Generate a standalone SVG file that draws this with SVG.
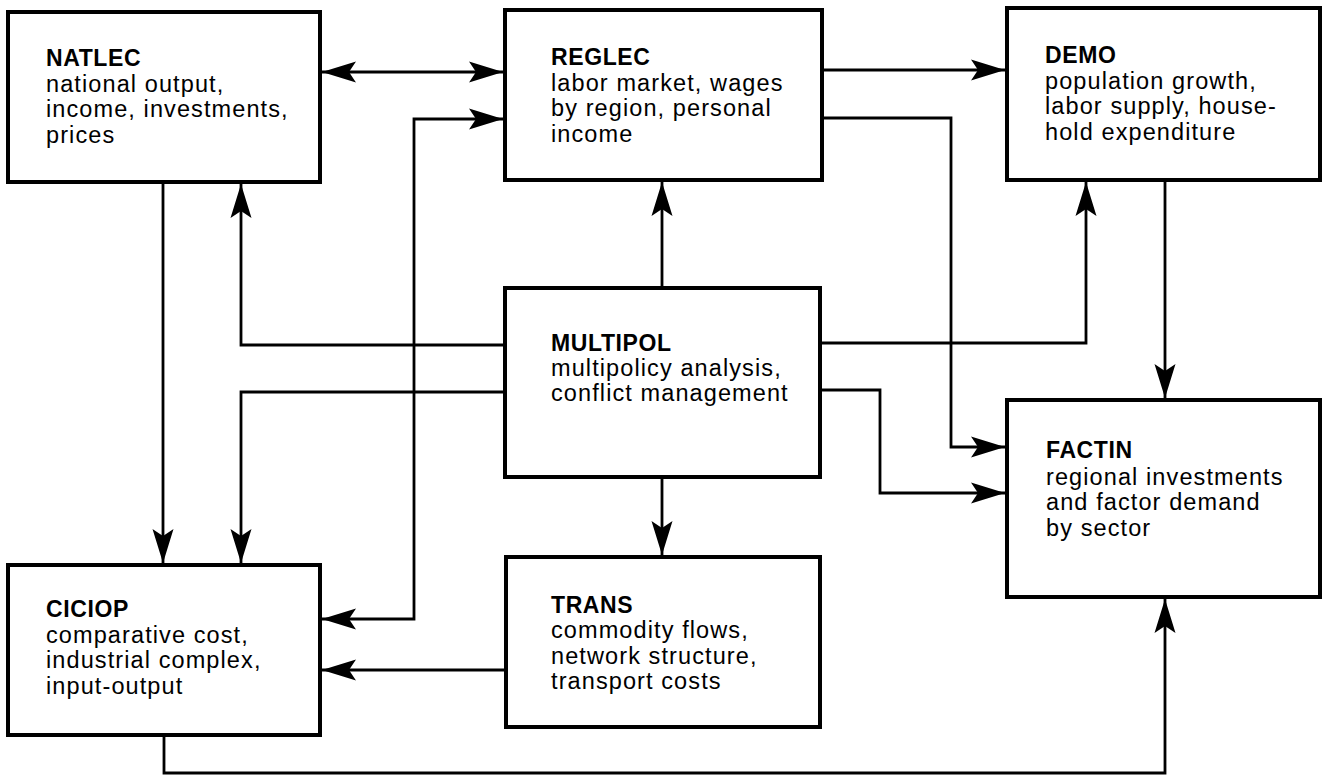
<svg xmlns="http://www.w3.org/2000/svg" width="1323" height="777" viewBox="0 0 1323 777">
  <style>
    .box { fill: #fff; stroke: #000; stroke-width: 4; }
    .ttl { font-family: "Liberation Sans", Arial, sans-serif; font-size: 23px; font-weight: bold; letter-spacing: 0.6px; fill: #000; }
    .txt { font-family: "Liberation Sans", Arial, sans-serif; font-size: 23.5px; letter-spacing: 1.1px; fill: #000; }
    .ln { fill: none; stroke: #000; stroke-width: 2.8; }
  </style>
  <defs>
    <!-- barbed arrowhead, tip at the path end -->
    <marker id="ah" viewBox="0 0 34 24" refX="34" refY="12" markerWidth="34" markerHeight="24" markerUnits="userSpaceOnUse" orient="auto-start-reverse">
      <path d="M0,1.5 L34,12 L0,22.5 L7,12 Z" fill="#000"/>
    </marker>
  </defs>
  <rect width="1323" height="777" fill="#fff"/>

  <!-- connectors -->
  <g id="connectors">
    <path class="ln" d="M322,72 H503" marker-start="url(#ah)" marker-end="url(#ah)"/>
    <path class="ln" d="M503,119 H414 V619 H322" marker-start="url(#ah)" marker-end="url(#ah)"/>
    <path class="ln" d="M822,70 H1005" marker-end="url(#ah)"/>
    <path class="ln" d="M822,118 H951 V447 H1005" marker-end="url(#ah)"/>
    <path class="ln" d="M662,288 V182" marker-end="url(#ah)"/>
    <path class="ln" d="M505,345 H241 V184" marker-end="url(#ah)"/>
    <path class="ln" d="M505,392 H241 V563" marker-end="url(#ah)"/>
    <path class="ln" d="M163,182 V563" marker-end="url(#ah)"/>
    <path class="ln" d="M820,343 H1086 V182" marker-end="url(#ah)"/>
    <path class="ln" d="M1165,180 V398" marker-end="url(#ah)"/>
    <path class="ln" d="M820,390 H880 V493 H1005" marker-end="url(#ah)"/>
    <path class="ln" d="M662,477 V555" marker-end="url(#ah)"/>
    <path class="ln" d="M506,670 H322" marker-end="url(#ah)"/>
    <path class="ln" d="M164,735 V773 H1165 V599" marker-end="url(#ah)"/>
  </g>

  <g id="natlec">
    <rect class="box" x="8" y="12" width="312" height="170"/>
    <text class="ttl" x="46" y="66">NATLEC</text>
    <text class="txt" x="46" y="92">national output,</text>
    <text class="txt" x="46" y="117">income, investments,</text>
    <text class="txt" x="46" y="143">prices</text>
  </g>

  <g id="reglec">
    <rect class="box" x="505" y="10" width="317" height="170"/>
    <text class="ttl" x="551" y="65">REGLEC</text>
    <text class="txt" x="551" y="91">labor market, wages</text>
    <text class="txt" x="551" y="116">by region, personal</text>
    <text class="txt" x="551" y="142">income</text>
  </g>

  <g id="demo">
    <rect class="box" x="1007" y="8" width="313" height="172"/>
    <text class="ttl" x="1045" y="63">DEMO</text>
    <text class="txt" x="1045" y="89">population growth,</text>
    <text class="txt" x="1045" y="114">labor supply, house-</text>
    <text class="txt" x="1045" y="140">hold expenditure</text>
  </g>

  <g id="multipol">
    <rect class="box" x="505" y="288" width="315" height="189"/>
    <text class="ttl" x="551" y="351">MULTIPOL</text>
    <text class="txt" x="551" y="376">multipolicy analysis,</text>
    <text class="txt" x="551" y="401">conflict management</text>
  </g>

  <g id="factin">
    <rect class="box" x="1007" y="400" width="313" height="197"/>
    <text class="ttl" x="1046" y="458">FACTIN</text>
    <text class="txt" x="1046" y="485">regional investments</text>
    <text class="txt" x="1046" y="510">and factor demand</text>
    <text class="txt" x="1046" y="536">by sector</text>
  </g>

  <g id="ciciop">
    <rect class="box" x="8" y="565" width="312" height="170"/>
    <text class="ttl" x="46" y="617">CICIOP</text>
    <text class="txt" x="46" y="643">comparative cost,</text>
    <text class="txt" x="46" y="668">industrial complex,</text>
    <text class="txt" x="46" y="694">input-output</text>
  </g>

  <g id="trans">
    <rect class="box" x="506" y="557" width="314" height="170"/>
    <text class="ttl" x="551" y="613">TRANS</text>
    <text class="txt" x="551" y="638">commodity flows,</text>
    <text class="txt" x="551" y="664">network structure,</text>
    <text class="txt" x="551" y="689">transport costs</text>
  </g>
</svg>
